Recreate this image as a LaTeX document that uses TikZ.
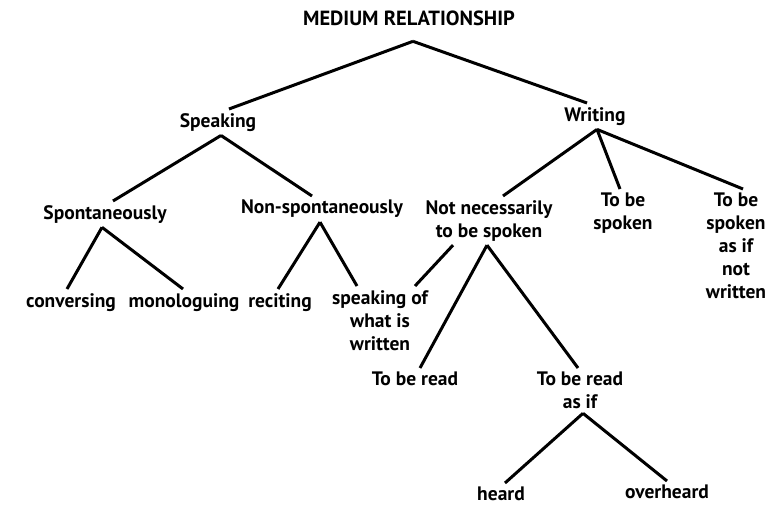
\documentclass[tikz,border=0pt]{standalone}
\usepackage{fontspec}
\setmainfont{PT Sans}
\begin{document}
\begin{tikzpicture}[x=1pt,y=-1pt,
  lbl/.style={anchor=north,inner sep=4pt,align=center,font=\fontsize{19.5}{23}\selectfont\bfseries},
  link/.style={black,line width=3pt}]
\useasboundingbox (0,0) rectangle (779,505);

\node (root) at (409,7) [lbl,font=\fontsize{20.5}{23}\selectfont\bfseries]{MEDIUM RELATIONSHIP};

\node (spk) at (218,109) [lbl]{Speaking};
\node (wri) at (595,103) [lbl]{Writing};

\node (spon) at (105,201) [lbl]{Spontaneously};
\node (nons) at (322,196) [lbl]{Non-spontaneously};
\node (notn) at (489,196) [lbl]{Not necessarily\\to be spoken};
\node (tbs) at (623,189) [lbl]{To be\\spoken};
\node (tbsai) at (736,189) [lbl]{To be\\spoken\\as if\\not\\written};

\node (conv) at (71,289) [lbl]{conversing};
\node (mono) at (184,289) [lbl]{monologuing};
\node (reci) at (280,289) [lbl]{reciting};
\node (spof) at (380,286) [lbl]{speaking of\\what is\\written};

\node (tbr) at (415,368) [lbl]{To be read};
\node (tbra) at (580,368) [lbl]{To be read\\as if};

\node (hear) at (501,483) [lbl]{heard};
\node (over) at (667,481) [lbl]{overheard};

\draw[link] ([xshift=4pt,yshift=-11pt]root.south)--([xshift=11pt]spk.north);
\draw[link] ([xshift=4pt,yshift=-11pt]root.south)--([xshift=-8pt]wri.north);

\draw[link] ([xshift=3pt]spk.south)--([xshift=8pt]spon.north);
\draw[link] ([xshift=3pt]spk.south)--([xshift=-10pt]nons.north);

\draw[link] ([xshift=-3pt]spon.south)--([xshift=-4pt]conv.north);
\draw[link] ([xshift=-3pt]spon.south)--([xshift=-1pt]mono.north);

\draw[link] ([xshift=-2pt]nons.south)--([xshift=-2pt]reci.north);
\draw[link] ([xshift=-2pt]nons.south)--([xshift=-23pt]spof.north);

\draw[link] ([xshift=2pt]wri.south)--([xshift=14pt]notn.north);
\draw[link] ([xshift=2pt]wri.south)--([xshift=-3pt]tbs.north);
\draw[link] ([xshift=2pt]wri.south)--([xshift=7pt]tbsai.north);

\draw[link] ([xshift=-36pt]notn.south)--([xshift=35pt]spof.north);
\draw[link] ([xshift=-2pt]notn.south)--([xshift=5pt]tbr.north);
\draw[link] ([xshift=-2pt]notn.south)--([xshift=-2pt]tbra.north);

\draw[link] ([xshift=3pt]tbra.south)--([xshift=4pt]hear.north);
\draw[link] ([xshift=3pt]tbra.south)--(over.north);

\end{tikzpicture}
\end{document}
